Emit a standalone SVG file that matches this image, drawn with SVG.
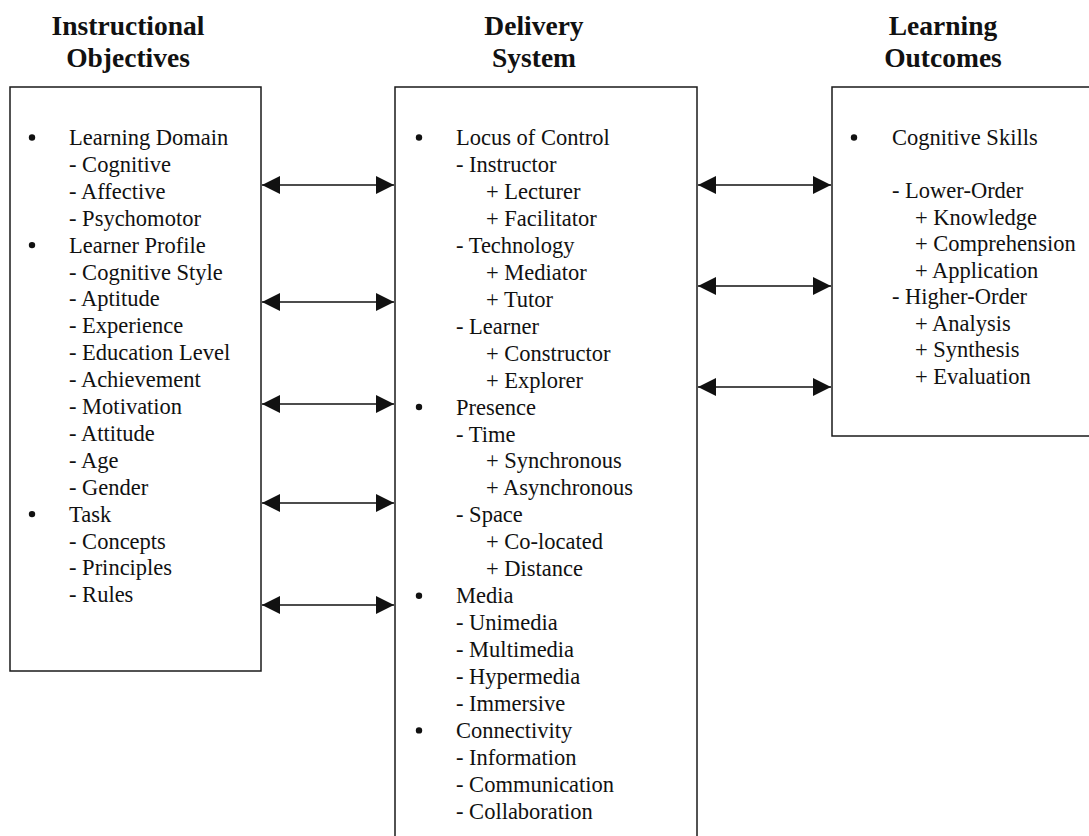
<svg xmlns="http://www.w3.org/2000/svg" width="1089" height="836" viewBox="0 0 1089 836">
<style>
.box{fill:#fff;stroke:#1a1a1a;stroke-width:1.5}
.t{font-family:"Liberation Serif","Times New Roman",serif;font-size:22.5px;fill:#111}
.h{font-family:"Liberation Serif","Times New Roman",serif;font-size:27.5px;font-weight:bold;fill:#111;text-anchor:middle}
.b{fill:#111}
.c{stroke:#111;stroke-width:1.6;fill:none;marker-start:url(#ah);marker-end:url(#ah)}
</style>
<defs>
<marker id="ah" markerUnits="userSpaceOnUse" markerWidth="18" markerHeight="18" refX="18" refY="9" orient="auto-start-reverse" viewBox="0 0 18 18">
<path d="M0,0 L18,9 L0,18 z" fill="#111"/>
</marker>
</defs>
<rect width="1089" height="836" fill="#fff"/>

<g id="node-objectives">
<text class="h" x="128" y="35">Instructional</text>
<text class="h" x="128" y="67">Objectives</text>
<rect class="box" x="10" y="87" width="251" height="584"/>
<circle class="b" cx="32" cy="137.5" r="3.2"/>
<circle class="b" cx="32" cy="245.1" r="3.2"/>
<circle class="b" cx="32" cy="514.1" r="3.2"/>
<text class="t" x="69" y="145">Learning Domain</text>
<text class="t" x="69" y="171.9">- Cognitive</text>
<text class="t" x="69" y="198.8">- Affective</text>
<text class="t" x="69" y="225.7">- Psychomotor</text>
<text class="t" x="69" y="252.6">Learner Profile</text>
<text class="t" x="69" y="279.5">- Cognitive Style</text>
<text class="t" x="69" y="306.4">- Aptitude</text>
<text class="t" x="69" y="333.3">- Experience</text>
<text class="t" x="69" y="360.2">- Education Level</text>
<text class="t" x="69" y="387.1">- Achievement</text>
<text class="t" x="69" y="414">- Motivation</text>
<text class="t" x="69" y="440.9">- Attitude</text>
<text class="t" x="69" y="467.8">- Age</text>
<text class="t" x="69" y="494.7">- Gender</text>
<text class="t" x="69" y="521.6">Task</text>
<text class="t" x="69" y="548.5">- Concepts</text>
<text class="t" x="69" y="575.4">- Principles</text>
<text class="t" x="69" y="602.3">- Rules</text>
</g>

<g id="node-delivery">
<text class="h" x="534" y="35">Delivery</text>
<text class="h" x="534" y="67">System</text>
<rect class="box" x="395" y="87" width="302" height="770"/>
<circle class="b" cx="419" cy="137.5" r="3.2"/>
<circle class="b" cx="419" cy="407" r="3.2"/>
<circle class="b" cx="419" cy="595.7" r="3.2"/>
<circle class="b" cx="419" cy="730.4" r="3.2"/>
<text class="t" x="456" y="145">Locus of Control</text>
<text class="t" x="456" y="172">- Instructor</text>
<text class="t" x="486" y="198.9">+ Lecturer</text>
<text class="t" x="486" y="225.9">+ Facilitator</text>
<text class="t" x="456" y="252.8">- Technology</text>
<text class="t" x="486" y="279.8">+ Mediator</text>
<text class="t" x="486" y="306.7">+ Tutor</text>
<text class="t" x="456" y="333.7">- Learner</text>
<text class="t" x="486" y="360.6">+ Constructor</text>
<text class="t" x="486" y="387.6">+ Explorer</text>
<text class="t" x="456" y="414.5">Presence</text>
<text class="t" x="456" y="441.5">- Time</text>
<text class="t" x="486" y="468.4">+ Synchronous</text>
<text class="t" x="486" y="495.4">+ Asynchronous</text>
<text class="t" x="456" y="522.3">- Space</text>
<text class="t" x="486" y="549.3">+ Co-located</text>
<text class="t" x="486" y="576.2">+ Distance</text>
<text class="t" x="456" y="603.2">Media</text>
<text class="t" x="456" y="630.1">- Unimedia</text>
<text class="t" x="456" y="657.1">- Multimedia</text>
<text class="t" x="456" y="684">- Hypermedia</text>
<text class="t" x="456" y="711">- Immersive</text>
<text class="t" x="456" y="737.9">Connectivity</text>
<text class="t" x="456" y="764.9">- Information</text>
<text class="t" x="456" y="791.8">- Communication</text>
<text class="t" x="456" y="818.8">- Collaboration</text>
</g>

<g id="node-outcomes">
<text class="h" x="943" y="35">Learning</text>
<text class="h" x="943" y="67">Outcomes</text>
<rect class="box" x="832" y="87" width="270" height="349"/>
<circle class="b" cx="854" cy="137.5" r="3.2"/>
<text class="t" x="892" y="145">Cognitive Skills</text>
<text class="t" x="892" y="198">- Lower-Order</text>
<text class="t" x="915" y="224.5">+ Knowledge</text>
<text class="t" x="915" y="251">+ Comprehension</text>
<text class="t" x="915" y="277.5">+ Application</text>
<text class="t" x="892" y="304">- Higher-Order</text>
<text class="t" x="915" y="330.5">+ Analysis</text>
<text class="t" x="915" y="357">+ Synthesis</text>
<text class="t" x="915" y="383.5">+ Evaluation</text>
</g>

<g id="connectors">
<line class="c" x1="262" y1="185" x2="394" y2="185"/>
<line class="c" x1="262" y1="302" x2="394" y2="302"/>
<line class="c" x1="262" y1="404" x2="394" y2="404"/>
<line class="c" x1="262" y1="503" x2="394" y2="503"/>
<line class="c" x1="262" y1="605" x2="394" y2="605"/>
<line class="c" x1="698" y1="185" x2="831" y2="185"/>
<line class="c" x1="698" y1="286" x2="831" y2="286"/>
<line class="c" x1="698" y1="387" x2="831" y2="387"/>
</g>
</svg>
